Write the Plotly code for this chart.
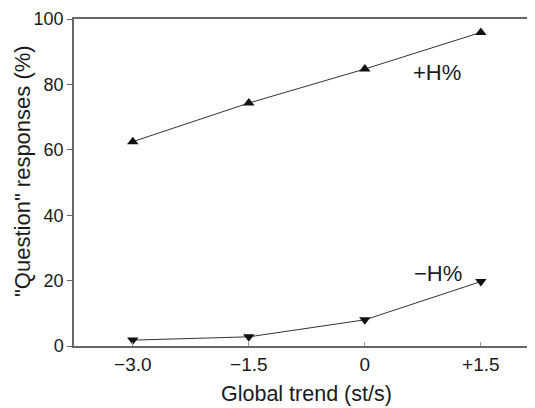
import plotly.graph_objects as go

trend = [-3.0, -1.5, 0.0, 1.5]
tick_labels = ["\u22123.0", "\u22121.5", "0", "+1.5"]
y_ticks = [0, 20, 40, 60, 80, 100]
plus_h = [62.5, 74.3, 84.7, 95.9]
minus_h = [1.8, 2.8, 8.0, 19.7]

fig = go.Figure()
fig.add_trace(go.Scatter(x=trend, y=plus_h, mode="lines+markers",
                         line=dict(color="#333333", width=1),
                         marker=dict(symbol="triangle-up", size=10, color="#111111")))
fig.add_trace(go.Scatter(x=trend, y=minus_h, mode="lines+markers",
                         line=dict(color="#333333", width=1),
                         marker=dict(symbol="triangle-down", size=10, color="#111111")))

fig.add_annotation(x=0.93, y=83.5, text="+H%", showarrow=False,
                   font=dict(size=22, color="#1a1a1a"))
fig.add_annotation(x=0.94, y=22.3, text="\u2212H%", showarrow=False,
                   font=dict(size=22, color="#1a1a1a"))

# axis titles
fig.add_annotation(xref="paper", yref="paper", x=0.505, y=-0.148,
                   text="Global trend (st/s)", showarrow=False,
                   xanchor="center", yanchor="middle",
                   font=dict(size=21.5, color="#1a1a1a"))
fig.add_annotation(xref="paper", yref="paper", x=-0.113, y=0.535,
                   text='"Question" responses (%)', showarrow=False, textangle=-90,
                   xanchor="center", yanchor="middle",
                   font=dict(size=22, color="#1a1a1a"))

# page body has an 8px default margin; size the figure to fit the window
fig.update_layout(
    width=527, height=400,
    margin=dict(l=66, r=0, t=11, b=62),
    paper_bgcolor="white", plot_bgcolor="white",
    showlegend=False,
    font=dict(family="Liberation Sans, Arial, sans-serif", size=18, color="#1a1a1a"),
    xaxis=dict(range=[-3.76, 2.2], tickvals=trend, ticktext=tick_labels,
               showgrid=False, zeroline=False, showline=True, linecolor="#666666",
               linewidth=1.5, mirror=True, ticks="inside", ticklen=4, tickcolor="#999999",
               tickfont=dict(size=19), automargin=False),
    yaxis=dict(range=[0, 100], tickvals=y_ticks,
               showgrid=False, zeroline=False, showline=True, linecolor="#666666",
               linewidth=1.5, ticks="outside", ticklen=5, tickcolor="#666666",
               tickfont=dict(size=18), automargin=False),
)

fig.write_html("out.html")
